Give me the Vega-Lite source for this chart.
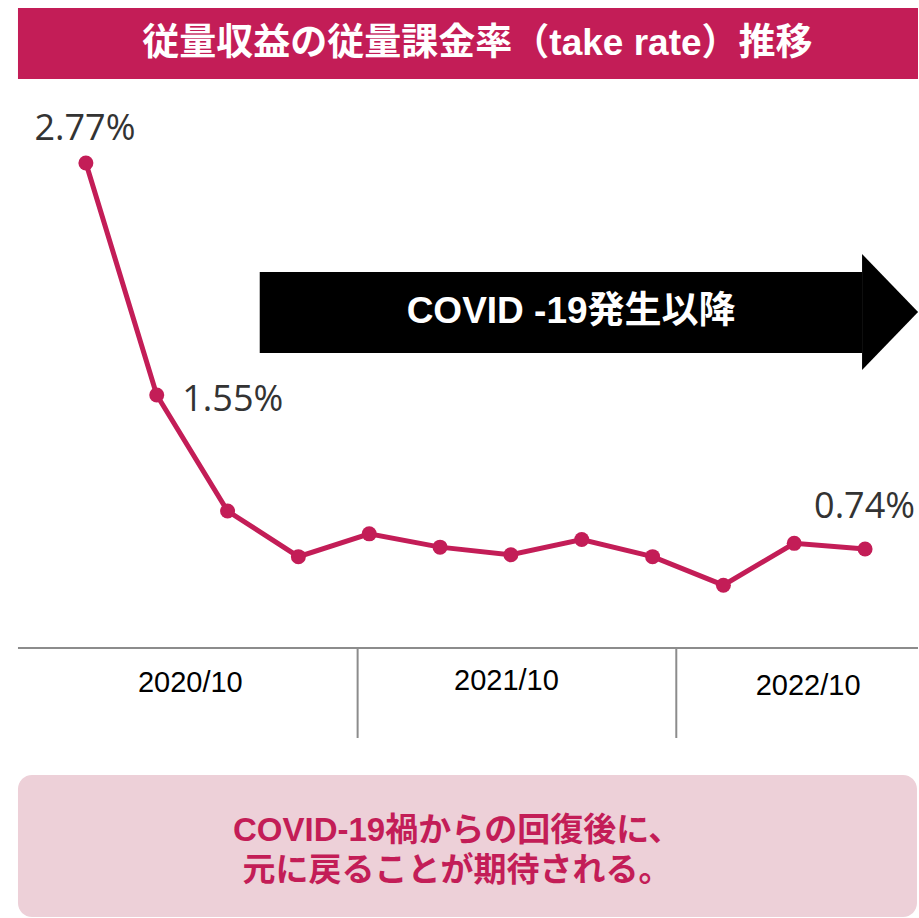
{
  "$schema": "https://vega.github.io/schema/vega-lite/v6.json",
  "width": 919,
  "height": 918,
  "autosize": {"type": "fit", "contains": "padding"},
  "padding": 0,
  "background": "white",
  "config": {"view": {"stroke": null}},
  "layer": [
    {
      "data": {"values": [{"x": 0.041, "x2": 12.7474, "y": 3.585, "y2": 3.211}]},
      "mark": {"type": "rect", "fill": "#C31D57"},
      "encoding": {
        "x": {"field": "x", "type": "quantitative", "scale": {"domain": [-0.2128, 12.7474], "nice": false, "zero": false}, "axis": null},
        "x2": {"field": "x2"},
        "y": {"field": "y", "type": "quantitative", "scale": {"domain": [-1.2, 3.627], "nice": false, "zero": false}, "axis": null},
        "y2": {"field": "y2"}
      }
    },
    {
      "data": {"values": [{"x": 6.528, "y": 3.395, "t": "従量収益の従量課金率（take rate）推移"}]},
      "mark": {"type": "text", "color": "white", "font": "Liberation Sans, Noto Sans CJK JP", "fontWeight": "bold", "fontSize": 37, "align": "center", "baseline": "middle"},
      "encoding": {
        "x": {"field": "x", "type": "quantitative"},
        "y": {"field": "y", "type": "quantitative"},
        "text": {"field": "t"}
      }
    },
    {
      "data": {"values": [{"x": 3.454, "x2": 11.958, "y": 2.197, "y2": 1.771}]},
      "mark": {"type": "rect", "fill": "black"},
      "encoding": {
        "x": {"field": "x", "type": "quantitative"},
        "x2": {"field": "x2"},
        "y": {"field": "y", "type": "quantitative"},
        "y2": {"field": "y2"}
      }
    },
    {
      "data": {"values": [{"x": 12.353, "y": 1.986}]},
      "mark": {"type": "point", "shape": "M-0.483,-1L0.483,0L-0.483,1Z", "size": 13456, "filled": true, "fill": "black", "opacity": 1, "strokeWidth": 0},
      "encoding": {
        "x": {"field": "x", "type": "quantitative"},
        "y": {"field": "y", "type": "quantitative"}
      }
    },
    {
      "data": {"values": [{"x": 7.85, "y": 1.986, "t": "COVID -19発生以降"}]},
      "mark": {"type": "text", "color": "white", "font": "Liberation Sans, Noto Sans CJK JP", "fontWeight": "bold", "fontSize": 37, "align": "center", "baseline": "middle"},
      "encoding": {
        "x": {"field": "x", "type": "quantitative"},
        "y": {"field": "y", "type": "quantitative"},
        "text": {"field": "t"}
      }
    },
    {
      "data": {"name": "series", "values": [
        {"q": 1, "rate": 2.77, "label": "2.77%"},
        {"q": 2, "rate": 1.55, "label": "1.55%"},
        {"q": 3, "rate": 0.94, "label": ""},
        {"q": 4, "rate": 0.70, "label": ""},
        {"q": 5, "rate": 0.82, "label": ""},
        {"q": 6, "rate": 0.75, "label": ""},
        {"q": 7, "rate": 0.71, "label": ""},
        {"q": 8, "rate": 0.79, "label": ""},
        {"q": 9, "rate": 0.70, "label": ""},
        {"q": 10, "rate": 0.55, "label": ""},
        {"q": 11, "rate": 0.77, "label": ""},
        {"q": 12, "rate": 0.74, "label": "0.74%"}
      ]},
      "layer": [
        {
          "mark": {"type": "line", "color": "#C31D57", "strokeWidth": 5},
          "encoding": {
            "x": {"field": "q", "type": "quantitative"},
            "y": {"field": "rate", "type": "quantitative"}
          }
        },
        {
          "mark": {"type": "point", "filled": true, "color": "#C31D57", "opacity": 1, "size": 225},
          "encoding": {
            "x": {"field": "q", "type": "quantitative"},
            "y": {"field": "rate", "type": "quantitative"}
          }
        }
      ]
    },
    {
      "data": {"values": [
        {"x": 0.986, "y": 2.95, "t": "2.77%"},
        {"x": 3.073, "y": 1.525, "t": "1.55%"},
        {"x": 11.993, "y": 0.962, "t": "0.74%"}
      ]},
      "mark": {"type": "text", "color": "#333333", "font": "Open Sans", "fontSize": 36, "align": "center", "baseline": "middle"},
      "encoding": {
        "x": {"field": "x", "type": "quantitative"},
        "y": {"field": "y", "type": "quantitative"},
        "text": {"field": "t"}
      }
    },
    {
      "data": {"values": [{"x": 0.041, "x2": 12.7474, "y": 0.2197}]},
      "mark": {"type": "rule", "color": "#8C8C8C", "strokeWidth": 2},
      "encoding": {
        "x": {"field": "x", "type": "quantitative"},
        "x2": {"field": "x2"},
        "y": {"field": "y", "type": "quantitative"}
      }
    },
    {
      "data": {"values": [{"x": 4.836, "y": 0.2197, "y2": -0.2534}, {"x": 9.335, "y": 0.2197, "y2": -0.2534}]},
      "mark": {"type": "rule", "color": "#8C8C8C", "strokeWidth": 2},
      "encoding": {
        "x": {"field": "x", "type": "quantitative"},
        "y": {"field": "y", "type": "quantitative"},
        "y2": {"field": "y2"}
      }
    },
    {
      "data": {"values": [
        {"x": 2.474, "y": 0.0358, "t": "2020/10"},
        {"x": 6.937, "y": 0.0463, "t": "2021/10"},
        {"x": 11.196, "y": 0.02, "t": "2022/10"}
      ]},
      "mark": {"type": "text", "color": "black", "font": "Liberation Sans", "fontSize": 29, "align": "center", "baseline": "middle"},
      "encoding": {
        "x": {"field": "x", "type": "quantitative"},
        "y": {"field": "y", "type": "quantitative"},
        "text": {"field": "t"}
      }
    },
    {
      "data": {"values": [{"x": 0.041, "x2": 12.733, "y": -0.448, "y2": -1.1945}]},
      "mark": {"type": "rect", "fill": "#EDD0D8", "cornerRadius": 14},
      "encoding": {
        "x": {"field": "x", "type": "quantitative"},
        "x2": {"field": "x2"},
        "y": {"field": "y", "type": "quantitative"},
        "y2": {"field": "y2"}
      }
    },
    {
      "data": {"values": [
        {"x": 6.24, "y": -0.7413, "t": "COVID-19禍からの回復後に、"},
        {"x": 6.24, "y": -0.9516, "t": "元に戻ることが期待される。"}
      ]},
      "mark": {"type": "text", "color": "#C31D57", "font": "Liberation Sans, Noto Sans CJK JP", "fontWeight": "bold", "fontSize": 33, "align": "center", "baseline": "middle"},
      "encoding": {
        "x": {"field": "x", "type": "quantitative"},
        "y": {"field": "y", "type": "quantitative"},
        "text": {"field": "t"}
      }
    }
  ]
}
